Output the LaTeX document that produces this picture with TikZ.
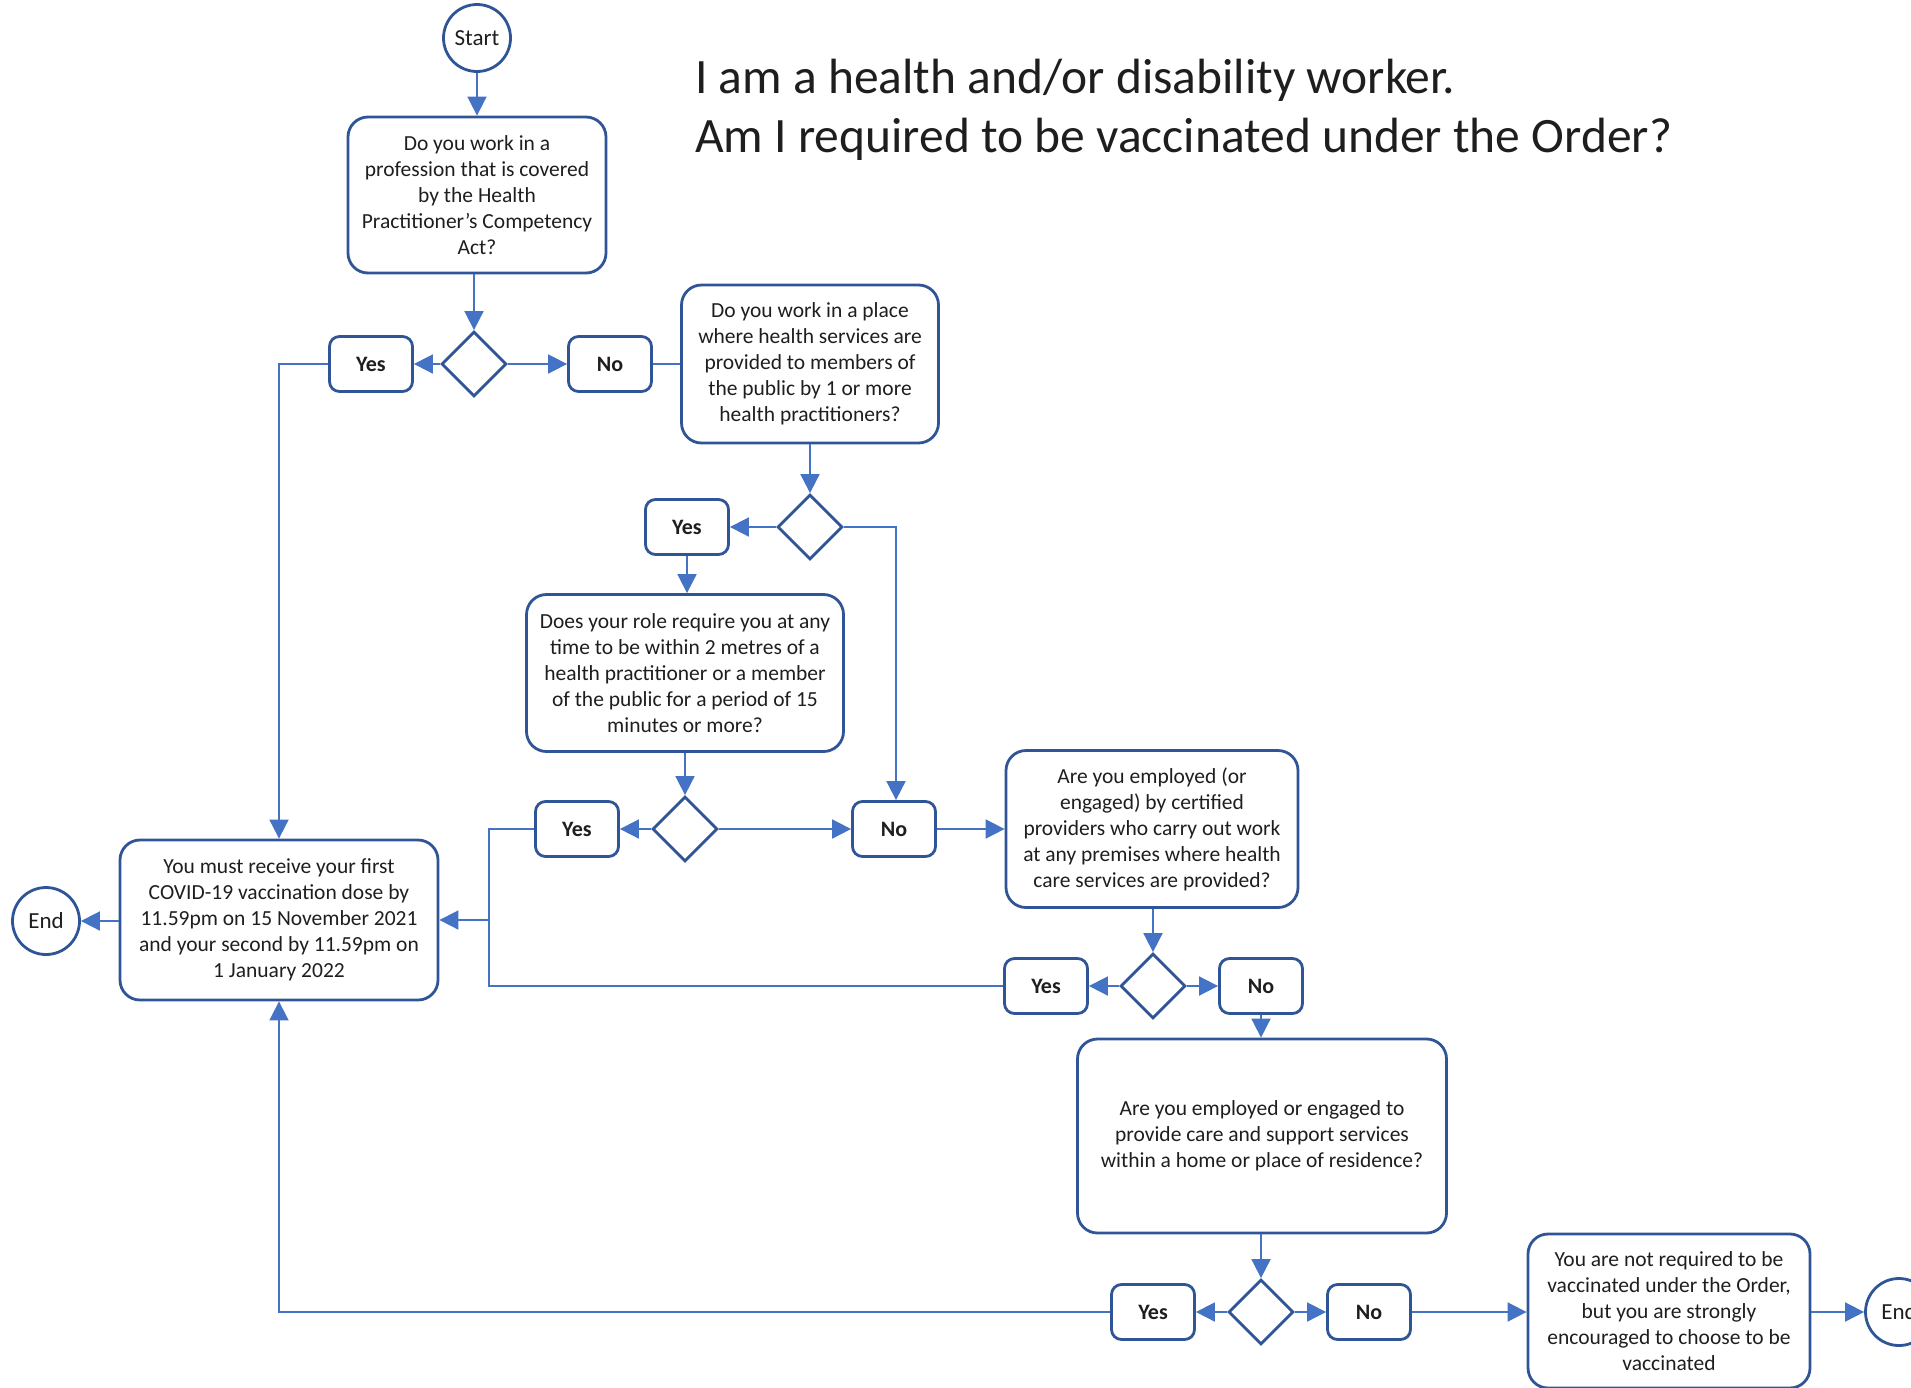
\documentclass[tikz,border=0pt]{standalone}
\usepackage{fontspec}
\setmainfont{Carlito}
\usetikzlibrary{shapes.geometric,arrows.meta}
\definecolor{boxc}{HTML}{2F5597}
\definecolor{connc}{HTML}{4472C4}
\definecolor{txt}{HTML}{1E1E1E}
\begin{document}
\begin{tikzpicture}[x=1pt,y=-1pt,
  box/.style={draw=boxc,line width=2.8pt,rounded corners=20pt,align=center,inner sep=0pt,
    font=\fontsize{21.5}{26}\selectfont,text=txt},
  yn/.style={draw=boxc,line width=2.8pt,rounded corners=10pt,inner sep=0pt,
    minimum width=83pt,minimum height=55pt,font=\fontsize{22}{26}\selectfont\bfseries,text=txt},
  dec/.style={diamond,draw=boxc,line width=2.8pt,inner sep=0pt,minimum size=65pt,aspect=1},
  term/.style={circle,draw=boxc,line width=2.8pt,inner sep=0pt,minimum size=67pt,
    font=\fontsize{23}{26}\selectfont,text=txt},
  conn/.style={draw=connc,line width=1.8pt,-{Triangle[length=19pt,width=19pt]}},
  plain/.style={draw=connc,line width=1.8pt}]
\useasboundingbox (0,0) rectangle (1911,1387);

% title
\node[anchor=base west,inner sep=0pt,font=\fontsize{49.5}{58}\selectfont,text=txt] (t1) at (695,93) {I am a health and/or disability worker.};
\node[anchor=base west,inner sep=0pt,font=\fontsize{49.5}{58}\selectfont,text=txt] (t2) at (695,152) {Am I required to be vaccinated under the Order?};

% nodes
\node[term] (start) at (477,38) {Start};
\node[box,minimum width=258pt,minimum height=156pt] (q1) at (477,195)
  {Do you work in a\\profession that is covered\\by the Health\\Practitioner’s Competency\\Act?};
\node[dec] (d1) at (474,364) {};
\node[yn] (yes1) at (371,364) {Yes};
\node[yn] (no1) at (610,364) {No};
\node[box,minimum width=257pt,minimum height=158pt] (q2) at (810,364)
  {Do you work in a place\\where health services are\\provided to members of\\the public by 1 or more\\health practitioners?};
\node[dec] (d2) at (810,527) {};
\node[yn] (yes2) at (687,527) {Yes};
\node[box,minimum width=317pt,minimum height=157pt] (q3) at (685,673)
  {Does your role require you at any\\time to be within 2 metres of a\\health practitioner or a member\\of the public for a period of 15\\minutes or more?};
\node[dec] (d3) at (685,829) {};
\node[yn] (yes3) at (577,829) {Yes};
\node[yn] (no3) at (894,829) {No};
\node[box,minimum width=292pt,minimum height=157pt] (q4) at (1152,829)
  {Are you employed (or\\engaged) by certified\\providers who carry out work\\at any premises where health\\care services are provided?};
\node[dec] (d4) at (1153,986) {};
\node[yn] (yes4) at (1046,986) {Yes};
\node[yn] (no4) at (1261,986) {No};
\node[box,minimum width=369pt,minimum height=194pt] (q5) at (1262,1136)
  {Are you employed or engaged to\\provide care and support services\\within a home or place of residence?};
\node[dec] (d5) at (1261,1312) {};
\node[yn] (yes5) at (1153,1312) {Yes};
\node[yn] (no5) at (1369,1312) {No};
\node[box,minimum width=282pt,minimum height=154pt] (q6) at (1669,1311)
  {You are not required to be\\vaccinated under the Order,\\but you are strongly\\encouraged to choose to be\\vaccinated};
\node[term] (end2) at (1899,1312) {End};
\node[box,minimum width=318pt,minimum height=160pt] (q7) at (279,920)
  {You must receive your first\\COVID-19 vaccination dose by\\11.59pm on 15 November 2021\\and your second by 11.59pm on\\1 January 2022};
\node[term] (end1) at (46,921) {End};

\coordinate (jt) at (489,829);
\coordinate (jb) at (489,986);
\coordinate (jm) at (489,920);
\coordinate (d2r) at (896,527);

% connectors
\draw[conn] (start) -- (q1);
\draw[conn] (q1.south -| d1.north) -- (d1.north);
\draw[conn] (d1) -- (yes1);
\draw[conn] (d1) -- (no1);
\draw[plain] (no1) -- (q2);
\draw[conn] (yes1.west) -| (q7.north);
\draw[conn] (q2) -- (d2);
\draw[conn] (d2) -- (yes2);
\draw[conn] (d2.east) -- (d2r) -- (d2r |- no3.north);
\draw[conn] (yes2.south) -- (yes2.south |- q3.north);
\draw[conn] (q3) -- (d3);
\draw[conn] (d3) -- (yes3);
\draw[conn] (d3) -- (no3);
\draw[conn] (no3) -- (q4);
\draw[plain] (yes3.west) -- (jt) -- (jb) -- (yes4.west);
\draw[conn] (jm) -- (q7.east);
\draw[conn] (q4.south -| d4.north) -- (d4.north);
\draw[conn] (d4) -- (yes4);
\draw[conn] (d4) -- (no4);
\draw[conn] (no4.south) -- (no4.south |- q5.north);
\draw[conn] (q5.south -| d5.north) -- (d5.north);
\draw[conn] (d5) -- (yes5);
\draw[conn] (d5) -- (no5);
\draw[conn] (no5) -- (no5 -| q6.west);
\draw[conn] (q6.east |- end2) -- (end2);
\draw[conn] (yes5.west) -| (q7.south);
\draw[conn] (q7.west |- end1) -- (end1);
\end{tikzpicture}
\end{document}
